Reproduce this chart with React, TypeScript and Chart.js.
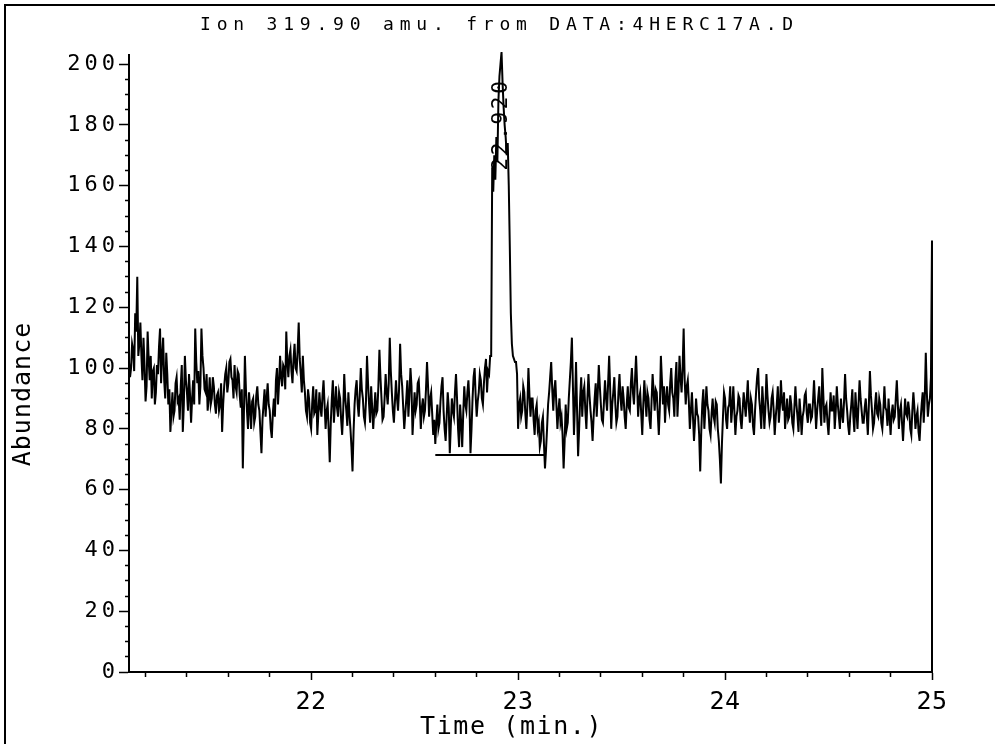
import React, { useEffect, useRef } from "react";
import { Chart, registerables } from "chart.js";

Chart.register(...registerables);

const TITLE = "Ion 319.90 amu. from DATA:4HERC17A.D";
const X_TITLE = "Time (min.)";
const Y_TITLE = "Abundance";
const PEAK_LABEL = "22.920";
const PEAK_TIME = 22.92;
const PEAK_LABEL_VALUE = 165;

const X_MIN = 21.12;
const X_MAX = 25.0;
const Y_MIN = 0;
const Y_MAX = 203;

// scan times: first scan and scan interval (min)
const T0 = 21.12;
const DT = 0.005;

// abundance per scan, 10 scans (0.05 min) per row
const SIGNAL = [
  102, 97, 100, 108, 106, 99, 118, 112, 130, 104, // 21.12
  108, 115, 104, 96, 110, 101, 89, 94, 112, 103, // 21.17
  96, 104, 90, 99, 100, 88, 92, 101, 98, 107, // 21.22
  113, 95, 104, 110, 96, 90, 105, 98, 88, 93, // 21.27
  79, 86, 92, 84, 86, 95, 97, 89, 90, 83, // 21.32
  94, 101, 79, 88, 104, 96, 92, 86, 98, 91, // 21.37
  82, 90, 96, 88, 113, 102, 95, 99, 88, 94, // 21.42
  113, 104, 100, 93, 92, 98, 86, 90, 97, 88, // 21.47
  90, 97, 94, 88, 85, 91, 92, 86, 88, 95, // 21.52
  79, 88, 94, 98, 100, 92, 95, 102, 103, 97, // 21.57
  96, 90, 101, 94, 92, 99, 98, 91, 87, 93, // 21.62
  67, 84, 104, 93, 86, 80, 92, 87, 80, 89, // 21.67
  90, 82, 84, 91, 94, 88, 86, 79, 72, 83, // 21.72
  88, 93, 84, 90, 95, 88, 86, 80, 77, 85, // 21.77
  90, 84, 96, 100, 88, 95, 104, 97, 94, 101, // 21.82
  100, 93, 112, 102, 97, 104, 106, 99, 95, 103, // 21.87
  108, 100, 99, 106, 115, 103, 98, 92, 104, 96, // 21.92
  92, 86, 84, 93, 90, 82, 80, 88, 94, 85, // 21.97
  86, 93, 78, 85, 92, 87, 84, 91, 96, 88, // 22.02
  80, 86, 88, 79, 69, 82, 90, 96, 82, 88, // 22.07
  94, 87, 84, 92, 90, 83, 78, 86, 98, 90, // 22.12
  86, 81, 92, 85, 80, 74, 66, 79, 88, 93, // 22.17
  96, 88, 84, 91, 100, 93, 90, 84, 82, 89, // 22.22
  104, 95, 88, 82, 94, 87, 80, 86, 92, 85, // 22.27
  86, 94, 106, 97, 90, 83, 84, 90, 98, 92, // 22.32
  88, 95, 110, 99, 92, 86, 82, 89, 96, 90, // 22.37
  86, 93, 108, 98, 94, 87, 80, 85, 90, 96, // 22.42
  84, 91, 100, 94, 78, 85, 92, 86, 88, 95, // 22.47
  96, 89, 80, 87, 90, 84, 86, 93, 102, 94, // 22.52
  84, 90, 92, 85, 78, 83, 75, 82, 88, 80, // 22.57
  82, 89, 94, 97, 86, 80, 76, 84, 92, 87, // 22.62
  72, 81, 90, 86, 84, 92, 98, 90, 80, 74, // 22.67
  88, 82, 74, 85, 94, 88, 86, 92, 96, 89, // 22.72
  72, 80, 90, 97, 100, 91, 84, 89, 92, 98, // 22.77
  96, 90, 88, 95, 100, 103, 92, 99, 98, 104, // 22.82
  104, 166, 158, 170, 162, 176, 168, 188, 196, 200, // 22.87
  204, 194, 186, 180, 176, 170, 174, 160, 140, 118, // 22.92
  108, 104, 103, 102, 102, 98, 80, 88, 90, 84, // 22.97
  86, 94, 92, 85, 80, 88, 100, 91, 84, 90, // 23.02
  90, 83, 78, 86, 88, 80, 82, 74, 76, 82, // 23.07
  84, 75, 67, 73, 80, 88, 92, 97, 102, 93, // 23.12
  86, 93, 96, 88, 80, 86, 90, 82, 84, 78, // 23.17
  67, 76, 88, 80, 82, 90, 96, 102, 110, 94, // 23.22
  78, 88, 102, 86, 71, 80, 90, 97, 84, 92, // 23.27
  94, 86, 80, 90, 98, 91, 86, 82, 76, 84, // 23.32
  90, 95, 84, 92, 101, 94, 88, 83, 82, 89, // 23.37
  96, 90, 86, 95, 104, 93, 80, 88, 92, 97, // 23.42
  88, 82, 84, 92, 98, 90, 86, 94, 90, 84, // 23.47
  80, 88, 94, 87, 86, 95, 100, 92, 88, 96, // 23.52
  104, 95, 84, 90, 92, 85, 78, 88, 96, 90, // 23.57
  84, 92, 90, 83, 80, 89, 98, 92, 86, 93, // 23.62
  92, 85, 78, 87, 104, 96, 88, 94, 82, 90, // 23.67
  94, 88, 86, 95, 100, 92, 90, 84, 96, 102, // 23.72
  84, 92, 104, 97, 92, 100, 113, 96, 88, 94, // 23.77
  96, 89, 80, 86, 92, 84, 76, 82, 90, 85, // 23.82
  84, 78, 66, 79, 88, 93, 80, 87, 94, 88, // 23.87
  86, 80, 78, 85, 90, 84, 82, 89, 88, 80, // 23.92
  76, 70, 62, 75, 84, 92, 90, 83, 80, 87, // 23.97
  88, 94, 82, 87, 94, 86, 78, 84, 86, 91, // 24.02
  90, 83, 80, 86, 92, 88, 84, 90, 96, 87, // 24.07
  82, 90, 88, 81, 78, 86, 92, 97, 100, 90, // 24.12
  86, 80, 94, 88, 80, 87, 98, 91, 86, 82, // 24.17
  84, 90, 92, 86, 78, 84, 88, 94, 82, 87, // 24.22
  96, 89, 86, 92, 80, 85, 90, 83, 84, 91, // 24.27
  88, 82, 80, 87, 94, 88, 84, 79, 90, 85, // 24.32
  78, 84, 86, 91, 92, 85, 82, 88, 88, 83, // 24.37
  84, 89, 96, 88, 80, 86, 90, 94, 86, 81, // 24.42
  100, 91, 82, 87, 88, 82, 78, 85, 92, 86, // 24.47
  86, 91, 80, 86, 94, 88, 84, 80, 90, 85, // 24.52
  82, 89, 98, 90, 86, 81, 78, 84, 88, 93, // 24.57
  84, 79, 92, 86, 80, 88, 96, 90, 86, 82, // 24.62
  82, 87, 90, 84, 78, 88, 99, 91, 86, 80, // 24.67
  82, 88, 92, 85, 84, 90, 88, 82, 80, 86, // 24.72
  94, 87, 86, 81, 90, 84, 78, 85, 88, 83, // 24.77
  84, 90, 96, 88, 80, 86, 88, 82, 76, 83, // 24.82
  90, 85, 84, 89, 86, 80, 78, 86, 92, 87, // 24.87
  80, 84, 86, 79, 76, 83, 88, 92, 82, 90, // 24.92
  105, 92, 84, 88, 90, 97, 142, // 24.97 .. 25.00
];
const END_TIME = 25.0;
const END_VALUE = 0;

// integration baseline under the peak
const BASELINE_TIMES = [22.6, 23.13];
const BASELINE_VALUES = [71.4, 71.4];

const FONT = "'DejaVu Sans Mono', monospace";

const isWhole = (v: number) => Math.abs(v - Math.round(v)) < 1e-6;

function drawText(
  ctx: CanvasRenderingContext2D,
  text: string,
  x: number,
  y: number,
  size: number,
  spacing: number,
  align: CanvasTextAlign,
  rotate = 0
) {
  ctx.save();
  (ctx as any).letterSpacing = `${spacing}px`;
  ctx.translate(x, y);
  if (rotate) ctx.rotate(rotate);
  ctx.font = `${size}px ${FONT}`;
  ctx.fillStyle = "#000";
  ctx.textAlign = align;
  ctx.textBaseline = "middle";
  ctx.fillText(text, 0, 0);
  ctx.restore();
}

export default function App() {
  const ref = useRef<HTMLCanvasElement | null>(null);

  useEffect(() => {
    document.body.style.margin = "0";
    const canvas = ref.current;
    if (!canvas) return;

    const trace = SIGNAL.map((v, i) => ({ x: Math.round((T0 + i * DT) * 1000) / 1000, y: v }));
    trace.push({ x: END_TIME, y: END_VALUE });
    const baseline = BASELINE_TIMES.map((t, i) => ({ x: t, y: BASELINE_VALUES[i] }));

    const textPlugin = {
      id: "frameAndText",
      beforeDraw(chart: any) {
        const ctx = chart.ctx;
        ctx.save();
        ctx.fillStyle = "#fff";
        ctx.fillRect(0, 0, chart.width, chart.height);
        ctx.strokeStyle = "#000";
        ctx.lineWidth = 2;
        ctx.beginPath();
        ctx.moveTo(5, chart.height + 5);
        ctx.lineTo(5, 5);
        ctx.lineTo(chart.width + 5, 5);
        ctx.stroke();
        ctx.restore();
        // spacing for the y tick labels (drawn before the datasets)
        ctx.letterSpacing = "4px";
      },
      afterDatasetsDraw(chart: any) {
        const ctx = chart.ctx;
        const xs = chart.scales.x;
        const ys = chart.scales.y;
        drawText(
          ctx,
          PEAK_LABEL,
          xs.getPixelForValue(PEAK_TIME),
          ys.getPixelForValue(PEAK_LABEL_VALUE),
          21,
          2.7,
          "left",
          -Math.PI / 2
        );
        // spacing for the x tick labels (drawn after the datasets)
        ctx.letterSpacing = "0.5px";
      },
      afterDraw(chart: any) {
        const ctx = chart.ctx;
        const area = chart.chartArea;
        ctx.letterSpacing = "0px";
        drawText(ctx, TITLE, 200, 25, 18, 5.8, "left");
        drawText(ctx, X_TITLE, 420, area.bottom + 55, 25, 1.6, "left");
        drawText(ctx, Y_TITLE, 23, 394, 25, 1, "center", -Math.PI / 2);
      },
    };

    const chart = new Chart(canvas, {
      type: "line",
      data: {
        datasets: [
          {
            data: trace,
            borderColor: "#000",
            borderWidth: 2,
            pointRadius: 0,
            tension: 0,
            fill: false,
            clip: false,
          },
          {
            data: baseline,
            borderColor: "#000",
            borderWidth: 2,
            pointRadius: 0,
            tension: 0,
            fill: false,
          },
        ],
      },
      options: {
        animation: false,
        responsive: false,
        devicePixelRatio: 1,
        layout: { padding: { left: 12, right: 63, top: 55, bottom: 0 } },
        plugins: {
          legend: { display: false },
          tooltip: { enabled: false },
          title: { display: false },
        },
        scales: {
          x: {
            type: "linear",
            min: X_MIN,
            max: X_MAX,
            grid: {
              drawOnChartArea: false,
              drawTicks: true,
              tickLength: 8,
              tickColor: "#000",
              tickWidth: 1.5,
              tickBorderDash: (c: any) => (c.tick && isWhole(c.tick.value) ? [] : [4, 40]),
            },
            border: { color: "#000", width: 2 },
            ticks: {
              stepSize: 0.2,
              includeBounds: false,
              autoSkip: false,
              maxRotation: 0,
              color: "#000",
              padding: 7,
              z: 1,
              font: { family: FONT, size: 25 },
              callback: (v: any) => (isWhole(Number(v)) ? String(Math.round(Number(v))) : ""),
            },
            title: { display: false },
            afterFit: (s: any) => {
              s.height = 72;
            },
          },
          y: {
            type: "linear",
            min: Y_MIN,
            max: Y_MAX,
            grid: {
              drawOnChartArea: false,
              drawTicks: true,
              tickLength: 10,
              tickColor: "#000",
              tickWidth: 1.5,
              tickBorderDash: (c: any) => (c.tick && c.tick.value % 20 === 0 ? [] : [0, 6, 4]),
            },
            border: { color: "#000", width: 2 },
            ticks: {
              stepSize: 5,
              includeBounds: false,
              autoSkip: false,
              color: "#000",
              padding: 0,
              z: 0,
              font: { family: FONT, size: 22 },
              callback: (v: any) => (Number(v) % 20 === 0 ? String(v) : ""),
            },
            title: { display: false },
            afterFit: (s: any) => {
              s.width = 117;
            },
          },
        },
      } as any,
      plugins: [textPlugin],
    });

    return () => chart.destroy();
  }, []);

  return (
    <div style={{ position: "fixed", left: 0, top: 0, width: 995, height: 744, background: "#fff" }}>
      <canvas ref={ref} width={995} height={744} style={{ display: "block", width: 995, height: 744 }} />
    </div>
  );
}
